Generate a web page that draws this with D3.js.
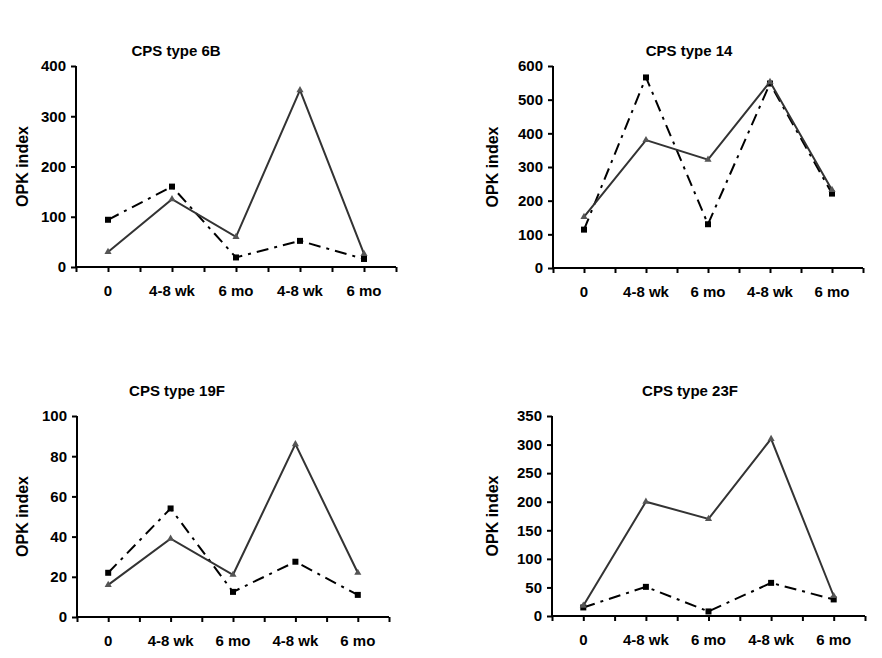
<!DOCTYPE html>
<html><head><meta charset="utf-8">
<script src="https://cdn.jsdelivr.net/npm/d3@7"></script>
<style>body{margin:0;background:#fff}svg{display:block}text{font-family:"Liberation Sans",Arial,sans-serif;font-weight:bold}</style>
</head><body>
<svg id="c" width="882" height="658"></svg>
<script>
const categories = ["0", "4-8 wk", "6 mo", "4-8 wk", "6 mo"];
const titles = ["CPS type 6B", "CPS type 14", "CPS type 19F", "CPS type 23F"];
const solid6B = [30, 135, 60, 352, 26];
const dashed6B = [94, 160, 19, 52, 16];
const solid14 = [152, 380, 322, 553, 232];
const dashed14 = [114, 566, 130, 548, 221];
const solid19F = [16, 39, 21, 86, 22];
const dashed19F = [22, 54, 12.5, 27.5, 11];
const solid23F = [18, 200, 170, 310, 35];
const dashed23F = [15, 51, 8, 58, 29];
const yMax = [400, 600, 100, 350];
const yStep = [100, 100, 20, 50];

const panels = [
  {title: titles[0], solid: solid6B, dashed: dashed6B, ymax: yMax[0], step: yStep[0], x0: 76, x1: 396, yTop: 66, yBot: 267, tx: 176, ty: 56, lx: 22},
  {title: titles[1], solid: solid14, dashed: dashed14, ymax: yMax[1], step: yStep[1], x0: 553, x1: 863, yTop: 66, yBot: 268, tx: 689, ty: 56, lx: 492},
  {title: titles[2], solid: solid19F, dashed: dashed19F, ymax: yMax[2], step: yStep[2], x0: 77, x1: 389, yTop: 416, yBot: 617, tx: 177, ty: 396, lx: 22},
  {title: titles[3], solid: solid23F, dashed: dashed23F, ymax: yMax[3], step: yStep[3], x0: 552, x1: 865, yTop: 416, yBot: 616, tx: 690, ty: 396, lx: 492}
];

const svg = d3.select("#c");

panels.forEach(p => {
  const g = svg.append("g");
  const x = d3.scaleBand().domain(d3.range(categories.length)).range([p.x0, p.x1]).padding(0);
  const y = d3.scaleLinear().domain([0, p.ymax]).range([p.yBot, p.yTop]);
  const cx = i => x(i) + x.bandwidth() / 2;

  g.append("text").attr("x", p.tx).attr("y", p.ty).attr("text-anchor", "middle")
    .attr("font-size", 15).attr("fill", "#000").text(p.title);

  // y axis
  const yAxis = d3.axisLeft(y).tickValues(d3.range(0, p.ymax + 0.001, p.step)).tickSize(5).tickPadding(5).tickFormat(d3.format("d"));
  const ya = g.append("g").attr("transform", `translate(${p.x0},0)`).call(yAxis);
  ya.select(".domain").attr("stroke", "#000").attr("stroke-width", 2).attr("d", `M0,${p.yTop}V${p.yBot}`);
  ya.selectAll(".tick line").attr("stroke", "#000").attr("stroke-width", 2);
  ya.selectAll(".tick text").attr("font-size", 15).attr("fill", "#000").attr("font-family", "Liberation Sans, Arial, sans-serif").attr("font-weight", "bold");

  // x axis with ticks at boundaries and centers
  const xl = d3.scaleLinear().domain([0, categories.length]).range([p.x0, p.x1]);
  const xAxisTicks = d3.axisBottom(xl).tickValues(d3.range(0, categories.length + 0.01, 0.5)).tickSize(5).tickFormat("");
  const xa = g.append("g").attr("transform", `translate(0,${p.yBot})`).call(xAxisTicks);
  xa.select(".domain").attr("stroke", "#000").attr("stroke-width", 2).attr("d", `M${p.x0},0H${p.x1}`);
  xa.selectAll(".tick line").attr("stroke", "#000").attr("stroke-width", 2);

  const xAxisLabels = d3.axisBottom(x).tickSize(0).tickPadding(18).tickFormat(i => categories[i]);
  const xb = g.append("g").attr("transform", `translate(0,${p.yBot})`).call(xAxisLabels);
  xb.select(".domain").remove();
  xb.selectAll(".tick text").attr("font-size", 15).attr("fill", "#000").attr("font-family", "Liberation Sans, Arial, sans-serif").attr("font-weight", "bold");

  // y label
  g.append("text").attr("transform", `translate(${p.lx + 6},${(p.yTop + p.yBot) / 2}) rotate(-90)`)
    .attr("text-anchor", "middle").attr("font-size", 16).attr("fill", "#000").text("OPK index");

  const line = d3.line().x((d, i) => cx(i)).y(d => y(d));

  // dashed series
  g.append("path").datum(p.dashed).attr("d", line).attr("fill", "none")
    .attr("stroke", "#000").attr("stroke-width", 2).attr("stroke-dasharray", "12,6,3,6");
  g.selectAll(".sq").data(p.dashed).enter().append("rect")
    .attr("x", (d, i) => cx(i) - 3).attr("y", d => y(d) - 3).attr("width", 6).attr("height", 6).attr("fill", "#000");

  // solid series
  g.append("path").datum(p.solid).attr("d", line).attr("fill", "none")
    .attr("stroke", "#333").attr("stroke-width", 2);
  g.selectAll(".tri").data(p.solid).enter().append("path")
    .attr("transform", (d, i) => `translate(${cx(i)},${y(d)})`)
    .attr("d", d3.symbol().type(d3.symbolTriangle).size(22)).attr("fill", "#555");
});
</script>
</body></html>
